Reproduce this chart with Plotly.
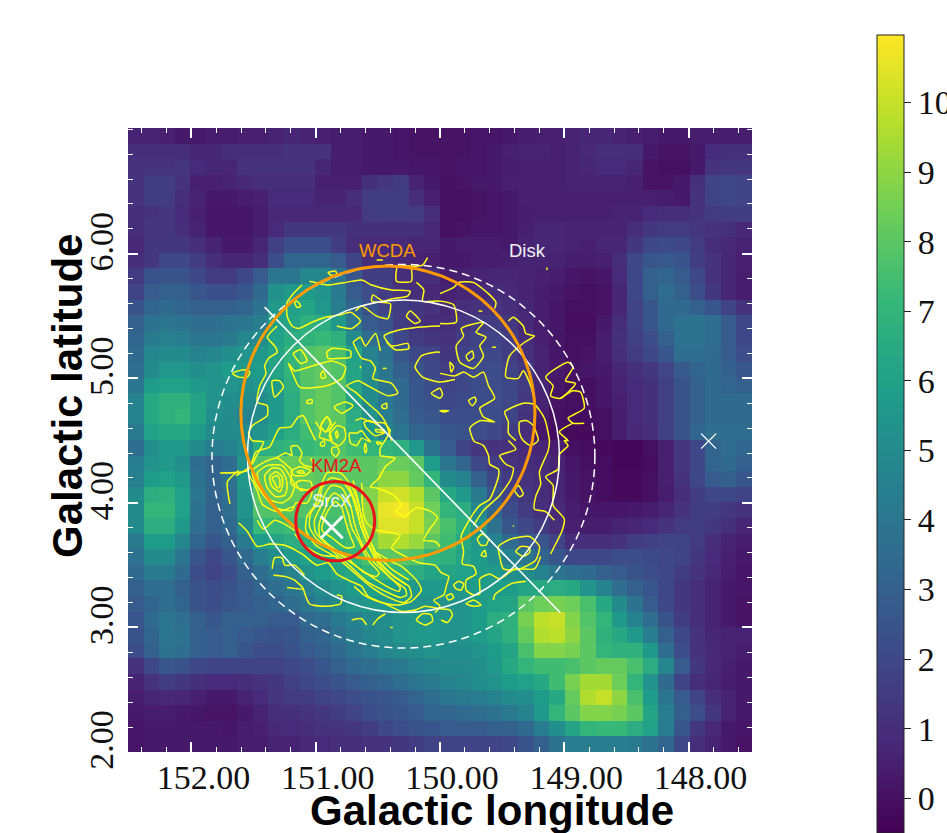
import plotly.graph_objects as go

# ---------- data: 40 x 40 map, top row first, left column = largest longitude ----------
Z = [
[.6,.6,.5,.3,.3,.4,.4,.5,.5,.6,.7,.6,.5,.4,.4,.3,.3,.2,.1,.1, .1,.1,.2,.2,.3,.4,.5,.5,.6,.7,.7,.6,.5,.4,.3,.3,.4,.4,.4,.4],
[1,1,1,1,.7,.7,1,1,1,1,1.2,1.2,1.2,.4,.4,.3,.3,.2,.1,.1, .1,.1,.2,.3,.5,.6,.6,.5,.6,.8,1,1,1,.3,.1,.1,.3,.9,1.1,1.1],
[1.2,1.2,1.2,1.3,.9,.7,.7,1.2,1.2,1.2,1.2,1.2,.7,.4,.4,.3,.3,.3,.2,.2, .1,.2,.2,.3,.4,.5,.5,.5,.6,.7,.9,.9,.7,.1,0,0,.3,1.2,1.4,1.4],
[1.2,1.6,1.6,1.2,.5,.5,.6,.8,1,1,1,1,.5,.5,.5,1.1,1.3,1.5,.6,.3, 0,.1,.3,.3,.5,.5,.5,.5,.6,.6,.6,.6,.5,.1,.1,.3,1.1,1.8,2,1.8],
[1.2,1.6,1.6,1,.6,.3,.3,.4,.5,.9,.9,.9,.6,.6,1,1.6,1.6,1.6,1,.5, 0,0,.1,.2,.3,.5,.5,.5,.5,.5,.5,.5,.5,.5,.4,.3,1.2,1.8,2,1.8],
[1,1.2,1.3,.9,.5,.2,.2,.2,.4,.8,.8,.8,.8,.8,.8,1.5,1.6,1.6,1.5,1, 0,0,.1,.2,.3,.4,.5,.5,.5,.5,.5,.6,.6,.9,1,1,1.2,1.5,1.6,1.6],
[1,1.3,1.3,1,.6,.2,.2,.2,.4,.9,1.4,1.4,1.4,1.4,1.1,1.1,1.1,1.1,1.1,.8, 0,.1,.2,.2,.3,.5,.7,.7,.6,.6,.6,.6,1,1.4,1.5,1.5,1.3,1.2,1.1,.8],
[.8,1.4,1.4,1.4,1,.6,.3,.3,.7,1.7,2.2,2.2,2.2,1.6,1,.9,.9,.9,.7,.7, .3,.4,.4,.4,.3,.6,.7,.7,.6,.5,.7,.7,1.4,2,2.1,2,1.5,1,.8,.6],
[1,1.4,2,2,1.6,1,.7,.7,1,2.2,3.2,3.2,3.2,2.8,1.8,1,1,.8,.6,.5, .3,.3,.4,.4,.5,.6,.6,.6,.4,.4,.5,1,2,2.6,2.7,2.5,1.6,1.2,.7,.5],
[1.5,2.4,2.4,2.4,2,1.5,1.5,2,2.8,4,4,4.8,4.8,4,2.6,1.6,1.6,1,1,1, .4,.5,.6,.7,.7,.6,.5,.4,.2,.1,.2,.9,2,3,3.2,2.8,2,1.2,.7,.4],
[1.8,2.8,3,3,2.6,2.3,2.3,2.6,3.4,5.3,5.6,5.8,5.4,4.2,2.8,2.2,1.6,1.2,1,.8, .6,.7,.8,1,.8,.6,.4,.3,.1,0,.1,.7,2,3,3.5,3,2.2,1.4,.7,.4],
[2.5,3.2,3.4,3.2,3,3,3,3.2,3.8,5.6,6,6.2,5.5,4.4,3.2,2.4,1.8,1.6,1.4,1.2, .8,1,1.2,1.2,1,.7,.4,.2,0,0,.1,.7,1.8,2.6,3.4,3.4,3,2.6,1.8,1.2],
[3,3.8,4,3.8,3.6,3.6,3.8,4,4.4,6,6.2,6.8,6.6,5.6,4,2.8,2.4,1.6,1.2,1, 1,1.3,1.6,1.6,1.4,.8,.4,.2,-.1,-.1,.3,1,1.8,2.6,3.4,3.8,3.8,3.6,2.8,2],
[3.2,4.2,4.5,4.4,4,4,4.2,4.8,5,6,6.6,6.9,7.2,6.8,5,3.6,3.2,2,1.5,1.3, 1.2,1.6,1.8,1.8,1.6,1,.5,.2,0,0,.4,1.1,1.7,2.2,3,3.8,3.8,3.6,2.8,2],
[3.4,4.8,5,5,4.6,4.8,5.2,5.4,5.6,6.2,7,7.8,8,7.6,6,4.6,3.8,2.6,2,1.8, 1.4,1.8,2,2,1.6,1.1,.6,.2,0,.1,.4,1,1.5,2,2.6,3.6,3.6,3.4,2.8,2.2],
[3.6,5,5.5,5.5,5.2,5.4,5.8,5.6,5.8,6.2,7,7.9,8.1,7.8,6.2,5,4,3,2.4,2, 1.6,2,2.2,2.2,1.8,1.3,.6,.3,.1,.2,.3,.7,1.1,1.4,1.9,2.7,3.2,3.4,3,2.6],
[4,5.8,6,6,5.6,5.4,5.4,5.3,5.5,5.8,6.8,7.8,8.2,7.8,6.2,5,4,3.4,2.6,2.2, 1.8,2,2.2,2.2,2,1.5,.7,.2,0,0,.2,.6,.9,1.1,1.7,2.5,3,3.4,3.2,3],
[4.6,6.4,6.8,6.8,6.2,5.4,5.2,5,5,5.6,6.6,7.8,8.2,7.8,6.2,5,4.2,3.4,2.6,2.4, 2,2.1,2.2,2.2,2,1.4,.6,.1,0,0,.2,.5,.9,1.1,1.7,2.5,3,3.4,3.4,3.4],
[4.6,6.4,6.8,7,6.2,5.2,5,4.6,5,5.6,6.6,7.8,8.2,8,6.6,5.4,4.4,3.6,2.8,2.6, 2.2,2.2,2.2,2.2,1.8,1.2,.4,0,-.1,-.1,0,.4,.9,1.1,1.7,2.5,3,3.4,3.4,3.4],
[4.2,6,6.4,6.4,5.8,5,5,5,5.4,6,6.6,7.4,7.8,7.8,6.8,5.6,4.6,4,3.2,3, 2.6,2.4,2.2,2,1.6,1,.2,-.1,-.2,-.2,0,.4,.8,1,1.7,2.5,3.2,3.6,3.6,3.5],
[3.6,5.2,5.6,5.6,5,4.4,4.6,5.2,6.6,6.8,7,7.2,7.4,7.8,7.4,7,7,6.8,5.5,3.8, 2.8,1.8,1.3,1.2,1.1,.9,.7,.4,0,-.1,-.2,-.3,-.3,0,.5,1.3,2,3.2,3.5,3.2],
[4.4,5.4,5.6,5.2,3.6,3.2,3.6,5.4,7.8,8,8.2,8.2,8,8,8,8,8.3,8.3,8,5.8, 4,3.2,2,1.6,1.2,1,.9,.6,.2,0,-.1,-.3,-.3,-.1,.5,1.3,2,3.2,3.4,3],
[4.5,5.8,6,5.6,3.8,3.2,3.8,5.6,8,8.4,8.3,8.2,8,8,8,8,9,9,8.2,7, 5,4.6,3,2,1.5,1.2,1,.7,.3,.1,-.1,-.2,-.2,0,.5,1.2,2,2.8,3,2.6],
[5,6.6,6.8,6,4,3.2,3.6,5.4,8,8.2,8.2,8,7.8,7.8,7.8,8.8,10,10.2,9.6,8, 6.4,5.6,4.2,2.6,1.8,1.4,1,.7,.3,.1,-.1,-.2,-.2,0,.4,1,1.6,2,2,1.8],
[5,7,7,6,3.8,3,3.6,5.4,7.8,7.8,7.8,7.8,7.6,7.6,7.8,9,10.6,10.8,10,8.4, 7,6.6,4.8,3.2,2.2,1.5,1.1,.8,.4,.2,.2,.2,.3,.4,.7,1.2,1.6,1.6,1.4,1.2],
[5,6.6,6.6,5.6,3.6,3,3.4,5,7.2,7.2,7.4,7.2,7.4,7.4,7.8,9,10.4,10.4,10,8.6, 7.6,6.8,5.4,3.8,2.6,2,1.5,1,.5,.4,.4,.6,.7,.9,1.2,1.5,1.6,1.4,1.1,.7],
[4.2,5.8,5.8,4.8,3.2,2.6,3,4.2,5.8,6.2,6.6,6.8,7,7.2,7.4,8.4,9.4,9.6,9.2,8, 7.4,6.4,5.6,4.6,3.4,2.8,2.6,1.8,1,1,1,1.2,1.6,1.7,1.8,1.8,1.5,1,.6,.4],
[3.8,5,5,4,2.6,2,2.6,3.4,4.4,5,5.6,6,6.2,6.6,7,7.6,8,8,7.8,7, 6.8,6.2,5.8,5.2,4.6,4,3.2,2.6,2,2,2,2.2,2.2,2.1,2,1.8,1.4,.9,.5,.3],
[3.4,4.2,4.2,3.4,2.2,1.8,2.2,3,3.6,4.2,4.6,5.4,5.8,6.2,6.4,7,7,7,6.6,6.2, 6.2,6,5.8,5.6,5.2,5,4.6,4,3.6,3.4,3,2.8,2.4,2.2,2,1.6,1.2,.8,.4,.2],
[3,3.6,3.6,3,2.4,2.2,2.4,2.8,3.2,3.6,4,4.6,5,5.4,5.8,6,6,5.8,5.6,5.6, 5.6,5.6,5.8,5.8,5.8,6.2,6.4,6.6,6.4,5.4,4.6,3.6,3,2.6,2,1.4,1,.6,.3,.2],
[2.8,3.2,3.6,3.2,2.4,2.2,2.6,2.8,3,3.2,3.6,4,4.6,5,5.4,5.6,5.6,5.6,5.4,5.4, 5.4,5.4,5.8,6,6.2,8,8.4,8.6,8.4,7.6,6.4,5,3.8,2.8,2,1.4,1,.6,.3,.1],
[2.6,3.4,4,3.6,3,2.6,3,3,3,2.8,2.8,3.4,3.6,4.2,4.6,5,5.2,5.4,5.6,5.6, 5.4,5.4,5.8,6.6,6.8,8.6,9.8,10,8.8,7.8,7,5.6,4.6,3.6,2.4,1.6,1,.6,.3,.1],
[2.4,3.2,4,3.8,3,2.8,3,2.8,2.6,2.4,2.6,3,3.2,3.8,4.4,4.8,5,5.4,5.6,5.6, 5.4,5.4,5.8,6.2,6.8,8.2,9.6,9.8,9,8,6.8,6.4,5.6,4.4,3,2,1.2,.7,.6,.6],
[2.2,3,3.8,3.6,3,2.8,3,2.6,2.2,2.2,2.4,2.8,3,3.4,4,4.4,4.8,5,5.2,5.4, 5.2,5.2,5.4,5.8,6.2,7.6,8.8,8.8,8.6,8,7,6.8,6.8,5.6,3.6,2.2,1.2,.8,.6,.4],
[1.2,2,2.6,2.4,2,1.8,1.8,1.8,1.8,1.8,2,2.2,2.6,3,3.4,3.6,4,4.2,4.6,4.8, 5,5,5.2,5.6,6.4,7,7.4,7.4,7.6,8,8.2,8.2,7.6,6.6,4.8,2.8,1.4,.8,.5,.3],
[.6,1.2,1.6,1.4,1.1,.9,.9,1,1.2,1.4,1.7,2,2.2,2.5,2.8,3,3.2,3.6,4,4.2, 4.6,4.8,5.2,5.4,5.8,6,6.4,7.4,8.6,9.4,9.4,8.4,7,5.4,3.4,1.8,1,.7,.4,.3],
[.4,.7,.8,.7,.5,.3,.3,.6,.9,1.3,1.5,1.6,1.8,2,2.2,2.4,2.6,2.8,3.2,3.6, 4,4.2,4.4,4.6,5,5.2,5.8,6.4,8.2,9.6,10,9,7.6,5.8,4,2.8,1.8,1,.6,.3],
[.3,.4,.4,.3,.2,.1,.1,.3,.6,1,1.1,1.2,1.4,1.6,1.8,2.2,2.4,2.6,2.8,3.2, 3.2,3.4,3.6,3.8,4.2,4.6,5.6,7,8,8.8,8.8,8.6,8,6.2,4.4,3,2.2,1.4,.6,.3],
[.2,.3,.3,.3,.3,.3,.2,.4,.5,.8,.9,1,1.2,1.2,1.4,1.6,2,2.2,2.4,2.6, 2.8,2.8,2.8,3,3,3.4,4.4,5.2,6.2,7,7.2,7.2,6.6,6,4.4,2.6,1.4,.8,.3,.2],
[.2,.3,.3,.3,.3,.3,.3,.4,.4,.6,.6,.8,.9,1,1,1.2,1.2,1.4,1.6,1.8, 1.8,1.8,1.8,1.8,2,2.4,3,3.8,4.4,4.4,4.4,4.4,4.2,3.8,3.2,2,1,.6,.3,.1],
]
assert all(len(r) == 40 for r in Z) and len(Z) == 40

X_TICKS = [152, 151, 150, 149, 148]
Y_TICKS = [2, 3, 4, 5, 6]
CBAR_TICKS = list(range(0, 11))
L_RANGE = [152.51, 147.49]
B_RANGE = [2.0, 7.01]

# contour traces (longitude, latitude), open lines
CONTOUR_OPEN_NORTH = [
 [(151.11,5.75),(151.18,5.68),(151.23,5.61),(151.23,5.50),(151.19,5.42),(151.14,5.40),(151.03,5.45),(150.92,5.49),(150.80,5.51),(150.72,5.53),(150.64,5.46),(150.71,5.40),(150.83,5.42)],
 [(151.31,5.42),(151.39,5.33),(151.33,5.26),(151.31,5.21),(151.38,5.16),(151.41,5.10),(151.40,5.04),(151.45,4.94),(151.47,4.81),(151.39,4.78),(151.39,4.70),(151.51,4.62),(151.54,4.56),(151.51,4.50),(151.42,4.49),(151.47,4.39),(151.55,4.26),(151.77,4.24)],
 [(151.62,4.26),(151.71,4.17),(151.69,3.99)],
 [(151.05,5.78),(150.90,5.75),(150.76,5.77),(150.63,5.79),(150.55,5.75),(150.39,5.71),(150.24,5.70),(150.26,5.66),(150.38,5.64),(150.46,5.62),(150.54,5.67),(150.55,5.62),(150.40,5.60),(150.42,5.48),(150.51,5.50),(150.63,5.58),(150.68,5.54)],
 [(150.10,5.97),(150.14,5.91),(150.20,5.90),(150.34,5.90),(150.35,5.78),(150.23,5.78),(150.23,5.88)],
 [(150.19,5.77),(150.13,5.71),(150.14,5.62),(150.00,5.62),(149.89,5.59),(149.87,5.45),(150.0,5.44)],
 [(150.0,5.68),(149.89,5.73),(149.85,5.77),(149.73,5.77),(149.60,5.67),(149.55,5.61),(149.56,5.56)],
 [(150.0,5.42),(150.18,5.41),(150.36,5.38),(150.45,5.34),(150.39,5.26),(150.26,5.28),(150.25,5.24),(150.36,5.23),(150.43,5.29)],
 [(150.70,5.29),(150.64,5.33),(150.60,5.26),(150.52,5.36),(150.48,5.22)],
 [(150.70,5.29),(150.63,5.16),(150.56,5.14),(150.52,5.08),(150.54,5.0),(150.39,4.96),(150.34,4.88),(150.42,4.86),(150.58,4.94),(150.66,4.98),(150.75,4.94),(150.68,4.89),(150.56,4.78),(150.50,4.73),(150.44,4.65),(150.39,4.50)],
 [(150.64,5.10),(150.64,5.08)], [(150.46,5.08),(150.43,5.08)],
 [(150.0,5.21),(150.04,5.21),(150.15,5.18),(150.20,5.09),(150.14,5.01),(150.0,4.97),(149.88,4.99)],
 [(150.07,4.88),(150.0,4.92),(149.98,4.87),(150.0,4.84),(150.07,4.88)],
 [(150.0,4.74),(149.93,4.74),(149.97,4.73),(150.0,4.74)],
 [(149.69,5.54),(149.66,5.54)], [(149.58,5.25),(149.55,5.25)], [(149.14,5.89),(149.14,5.87)], [(150.51,5.95),(150.46,5.95)],
 [(149.45,5.46),(149.41,5.49),(149.33,5.42),(149.31,5.36),(149.24,5.34),(149.32,5.29),(149.44,5.18),(149.47,5.01),(149.37,5.0),(149.33,5.06),(149.27,4.94),(149.24,4.82)],
 [(150.0,5.04),(149.88,5.02),(149.81,5.05),(149.73,5.01),(149.65,5.05),(149.61,4.94),(149.56,4.84),(149.68,4.76),(149.65,4.69),(149.56,4.65),(149.68,4.66),(149.76,4.60),(149.73,4.50),(149.72,4.49)],
 [(149.03,4.84),(148.93,4.90),(148.87,4.89),(148.84,4.76),(148.97,4.68),(148.93,4.64),(148.84,4.64)],
 [(148.93,4.64),(149.04,4.57),(148.97,4.50),(149.0,4.50),(148.97,4.46),(149.04,4.39),(149.05,4.27),(149.15,4.21),(149.09,4.14),(149.09,3.98),(149.0,3.87),(149.02,3.77),(149.07,3.67),(149.11,3.59)],
 [(149.39,4.50),(149.45,4.56),(149.45,4.65),(149.48,4.73),(149.33,4.80),(149.24,4.79),(149.16,4.68),(149.12,4.50),(149.13,4.42),(149.20,4.25),(149.19,4.15),(149.23,4.05),(149.24,3.95),(149.15,3.93),(149.08,3.86)],
 [(149.45,4.50),(149.39,4.43),(149.52,4.38),(149.47,4.31),(149.41,4.28),(149.43,4.19),(149.52,4.06),(149.65,3.94),(149.73,3.82)],
]
CONTOUR_RINGS_NORTH = [
 [(151.67,5.04),(151.58,5.07),(151.53,5.05),(151.55,5.01),(151.62,5.01)],
 [(150.90,5.85),(150.84,5.86),(150.83,5.83),(150.88,5.83)],
 [(151.15,5.62),(151.12,5.58),(151.15,5.57),(151.17,5.61)],
 [(150.24,5.54),(150.16,5.46),(150.20,5.44),(150.27,5.50)],
 [(150.91,5.21),(150.87,5.24),(150.72,5.22),(150.72,5.17),(150.82,5.16),(150.90,5.16)],
 [(151.18,5.20),(151.12,5.23),(151.07,5.14),(151.12,5.12)],
 [(151.22,5.12),(151.17,5.06),(151.09,5.08),(150.87,5.14),(150.76,5.09),(150.79,5.0),(150.91,4.94),(151.13,4.93),(151.19,5.05)],
 [(150.96,5.03),(150.94,5.06),(150.92,5.01),(150.95,5.0)],
 [(151.35,4.98),(151.29,4.98),(151.26,4.93),(151.33,4.85)],
 [(151.07,4.82),(151.03,4.83),(151.03,4.80),(151.07,4.80)],
 [(150.85,4.77),(150.76,4.81),(150.70,4.78),(150.79,4.72)],
 [(150.96,4.62),(150.91,4.69),(150.88,4.65),(150.92,4.57)],
 [(150.47,4.78),(150.43,4.80),(150.43,4.76),(150.46,4.76)],
 [(149.81,5.34),(149.83,5.40),(149.65,5.45),(149.71,5.37),(149.63,5.33),(149.68,5.26),(149.65,5.18),(149.73,5.08),(149.84,5.13),(149.87,5.26)],
 [(149.79,5.18),(149.74,5.22),(149.73,5.17),(149.77,5.14)],
 [(149.92,5.13),(149.89,5.09),(149.91,5.05)],
 [(149.77,4.82),(149.72,4.85),(149.71,4.82),(149.74,4.78)],
 [(149.15,5.01),(148.97,5.13),(148.93,5.09),(148.99,4.98),(148.91,4.96),(149.03,4.84),(149.11,4.86),(149.09,4.94)],
 [(149.36,4.65),(149.30,4.66),(149.25,4.62),(149.21,4.50),(149.27,4.46),(149.33,4.50),(149.36,4.56)],
 [(149.37,4.14),(149.40,4.10),(149.36,4.05),(149.33,4.07)],
]
CONTOUR_OPEN_CORE = [
 [(150.68,4.66),(150.63,4.68),(150.56,4.65),(150.45,4.64),(150.40,4.58),(150.43,4.52),(150.48,4.44),(150.48,4.38),(150.36,4.36),(150.44,4.29),(150.49,4.20),(150.56,4.13),(150.51,4.12),(150.37,4.06),(150.31,3.98),(150.35,3.94),(150.29,3.89),(150.19,3.96),(150.07,3.93),(150.02,3.88),(150.09,3.78),(150.13,3.70),(150.04,3.69),(150.0,3.65)],
 [(150.63,4.16),(150.62,3.94),(150.59,3.84),(150.51,3.78),(150.44,3.77),(150.32,3.74),(150.39,3.64),(150.28,3.57),(150.17,3.52),(150.04,3.50),(149.99,3.44),(149.93,3.41),(149.95,3.33),(149.97,3.26),(150.05,3.22),(150.0,3.17),(150.04,3.12)],
 [(150.53,3.61),(150.41,3.54),(150.31,3.49),(150.19,3.38),(150.15,3.30),(150.23,3.21),(150.33,3.18),(150.43,3.19),(150.53,3.22),(150.61,3.26),(150.69,3.33)],
 [(150.745,4.16),(150.67,3.98),(150.64,3.82),(150.58,3.68),(150.52,3.56),(150.41,3.44),(150.27,3.34)],
 [(150.70,4.18),(150.655,4.00),(150.625,3.84),(150.565,3.70),(150.50,3.58),(150.39,3.47),(150.25,3.38)],
 [(151.64,4.22),(151.53,4.29),(151.48,4.41),(151.37,4.45),(151.33,4.53),(151.29,4.60),(151.20,4.61),(151.14,4.69),(151.10,4.70),(151.05,4.60),(151.0,4.50)],
 [(151.32,4.36),(151.24,4.40),(151.19,4.38),(151.20,4.45),(151.15,4.46),(151.11,4.40),(151.13,4.34),(151.09,4.30),(151.01,4.29),(151.04,4.36)],
 [(151.0,4.65),(150.96,4.58),(150.97,4.53),(150.87,4.50),(150.89,4.58),(150.84,4.65)],
 [(151.47,3.86),(151.42,3.79),(151.33,3.86),(151.25,3.83),(151.17,3.78)],
 [(151.54,4.23),(151.47,4.10),(151.43,3.99),(151.31,3.93),(151.18,3.97)],
 [(151.17,3.75),(151.08,3.65),(150.95,3.58),(150.82,3.57)],
]
CONTOUR_RINGS_CORE = [
 [(150.91,4.24),(150.80,4.24),(150.71,4.13),(150.65,3.97),(150.61,3.81),(150.55,3.66),(150.49,3.53),(150.37,3.41),(150.25,3.33),(150.23,3.25),(150.29,3.20),(150.43,3.25),(150.56,3.33),(150.69,3.44),(150.83,3.56),(151.00,3.66),(151.08,3.78),(151.07,3.89),(151.00,3.995),(150.97,4.10)],
 [(150.88,4.20),(150.79,4.18),(150.71,4.06),(150.67,3.93),(150.63,3.80),(150.57,3.65),(150.51,3.53),(150.40,3.40),(150.28,3.31),(150.27,3.26),(150.32,3.24),(150.44,3.29),(150.59,3.37),(150.72,3.49),(150.85,3.60),(151.00,3.72),(151.05,3.81),(151.04,3.92),(150.97,4.01),(150.95,4.12)],
 [(150.87,4.14),(150.79,4.12),(150.72,3.98),(150.69,3.84),(150.64,3.70),(150.59,3.60),(150.53,3.52),(150.40,3.40),(150.32,3.32),(150.33,3.29),(150.43,3.33),(150.57,3.42),(150.73,3.53),(150.88,3.64),(151.00,3.76),(151.01,3.86),(150.96,3.97),(150.92,4.08)],
 [(150.85,4.08),(150.79,4.04),(150.74,3.92),(150.71,3.80),(150.65,3.69),(150.60,3.58),(150.56,3.52),(150.49,3.44),(150.51,3.41),(150.61,3.44),(150.75,3.56),(150.89,3.66),(150.97,3.74),(150.97,3.84),(150.93,3.94),(150.89,4.04)],
 [(150.84,4.01),(150.79,3.96),(150.76,3.85),(150.72,3.73),(150.69,3.65),(150.76,3.64),(150.87,3.72),(150.95,3.78),(150.92,3.90),(150.88,3.97)],
 [(151.47,4.24),(151.39,4.30),(151.27,4.30),(151.21,4.22),(151.17,4.14),(151.20,4.05),(151.27,4.00),(151.36,4.02),(151.43,4.10)],
 [(151.41,4.22),(151.35,4.28),(151.28,4.27),(151.24,4.20),(151.23,4.12),(151.25,4.06),(151.32,4.05),(151.39,4.12)],
 [(151.37,4.21),(151.32,4.25),(151.27,4.21),(151.27,4.13),(151.29,4.09),(151.35,4.13)],
 [(151.35,4.20),(151.31,4.22),(151.29,4.19),(151.29,4.13),(151.31,4.12),(151.33,4.16)],
 [(151.51,4.26),(151.41,4.33),(151.31,4.36),(151.23,4.30),(151.19,4.26),(151.20,4.16),(151.15,4.12),(151.03,4.09),(151.07,4.0),(151.16,4.0),(151.19,3.94),(151.32,3.96),(151.41,4.05),(151.49,4.17)],
 [(151.20,4.25),(151.13,4.29),(151.04,4.26),(151.09,4.22),(151.17,4.22)],
 [(151.15,4.25),(151.11,4.26),(151.09,4.24),(151.13,4.24)],
 [(151.16,4.16),(151.12,4.18),(151.04,4.17),(151.03,4.12),(151.12,4.10)],
 [(150.61,4.65),(150.56,4.66),(150.44,4.57),(150.52,4.54),(150.60,4.61)],
 [(150.52,4.59),(150.45,4.58),(150.45,4.57),(150.51,4.57)],
 [(150.73,4.56),(150.67,4.56),(150.63,4.58),(150.60,4.54),(150.56,4.49),(150.63,4.52),(150.67,4.46),(150.72,4.48),(150.73,4.53)],
 [(150.61,4.44),(150.60,4.48),(150.59,4.42),(150.60,4.40)],
 [(150.51,4.49),(150.47,4.48),(150.50,4.47)],
 [(150.87,4.44),(150.83,4.45),(150.81,4.41),(150.84,4.37),(150.87,4.40)],
 [(150.84,4.56),(150.83,4.58),(150.82,4.54),(150.83,4.52)],
 [(150.89,4.54),(150.83,4.62),(150.77,4.60),(150.76,4.52),(150.81,4.46),(150.87,4.49)],
 [(150.96,4.61),(150.91,4.69),(150.87,4.61),(150.92,4.57)],
 [(150.96,4.48),(150.93,4.50),(150.93,4.46),(150.96,4.46)],
]
CONTOUR_OPEN_SOUTH = [
 [(151.62,3.84),(151.55,3.77),(151.47,3.65),(151.37,3.67),(151.25,3.66),(151.11,3.59),(150.99,3.50),(150.90,3.52),(150.83,3.43),(150.74,3.38),(150.63,3.33),(150.58,3.25),(150.44,3.19),(150.31,3.13),(150.20,3.14),(150.12,3.17),(150.00,3.15),(149.92,3.14),(149.90,3.10),(149.94,3.04),(149.99,3.06)],
 [(151.35,3.47),(151.33,3.56),(151.27,3.56),(151.25,3.50),(151.17,3.50),(151.09,3.42)],
 [(151.34,3.42),(151.25,3.41),(151.17,3.38),(151.10,3.31),(151.23,3.32)],
 [(151.10,3.31),(151.05,3.19),(150.94,3.17),(150.80,3.19),(150.79,3.25),(150.83,3.26)],
 [(150.71,3.06),(150.63,3.07),(150.59,3.02)], [(150.54,3.02),(150.50,3.07),(150.44,3.11)], [(150.40,3.0),(150.38,3.0)],
 [(149.72,4.49),(149.65,4.46),(149.61,4.38),(149.60,4.31),(149.53,4.27),(149.53,4.21),(149.60,4.03),(149.68,3.98),(149.76,3.87),(149.83,3.73),(149.81,3.61),(149.82,3.51),(149.73,3.49),(149.71,3.43),(149.79,3.38),(149.79,3.30),(149.73,3.26),(149.68,3.27),(149.68,3.39),(149.60,3.43),(149.52,3.39),(149.40,3.47),(149.24,3.47),(149.19,3.57)],
 [(149.57,3.22),(149.56,3.26),(149.43,3.35),(149.31,3.37)], [(149.41,3.82),(149.41,3.81)],
]
CONTOUR_RINGS_SOUTH = [
 [(150.19,3.06),(150.14,3.11),(150.07,3.10),(150.06,3.05),(150.12,3.02)],
 [(149.53,3.65),(149.43,3.71),(149.28,3.73),(149.20,3.65),(149.23,3.54),(149.36,3.47),(149.49,3.47),(149.52,3.57)],
 [(149.39,3.61),(149.35,3.65),(149.28,3.64),(149.28,3.60),(149.33,3.57)],
 [(149.70,3.71),(149.66,3.75),(149.61,3.71),(149.63,3.66),(149.67,3.66)],
 [(149.67,3.58),(149.64,3.62),(149.63,3.57)],
 [(149.89,3.34),(149.85,3.37),(149.81,3.35),(149.83,3.30),(149.87,3.31)],
 [(149.95,3.25),(149.91,3.27),(149.89,3.24),(149.93,3.22)],
 [(149.79,3.19),(149.73,3.22),(149.67,3.18),(149.73,3.17)],
]

# fitted regions: centre longitude, centre latitude, radius in degrees
REGION_DISK_INNER = (150.294, 4.375, 1.255)
REGION_DISK_OUTER = (150.294, 4.375, 1.54)
REGION_WCDA = (150.419, 4.72, 1.183)
REGION_KM2A = (150.843, 3.853, 0.318)
CUT_LINE_L = [151.411, 149.032]
CUT_LINE_B = [5.572, 3.118]
SRCX_L, SRCX_B = [150.871], [3.805]
SOURCE2_L, SOURCE2_B = [147.839], [4.496]

W, H = 947, 833
FONT_SERIF = "Liberation Serif"
FONT_SANS = "Liberation Sans"

dl = (L_RANGE[0] - L_RANGE[1]) / 40
db = (B_RANGE[1] - B_RANGE[0]) / 40
fig = go.Figure()
fig.add_trace(go.Heatmap(
    z=Z, x0=L_RANGE[0] - dl / 2, dx=-dl, y0=B_RANGE[1] - db / 2, dy=-db,
    colorscale="Viridis", zmin=-0.5, zmax=10.97, hoverinfo="skip",
    colorbar=dict(
        x=877 / W, xanchor="left", y=1 - 35 / H, yanchor="top",
        thickness=27, thicknessmode="pixels", len=798, lenmode="pixels",
        tickvals=CBAR_TICKS, ticks="outside", ticklen=7, tickwidth=1, tickcolor="#222",
        outlinecolor="#222", outlinewidth=1, xpad=0, ypad=0,
        tickfont=dict(family=FONT_SERIF, size=34, color="#111"),
    ),
))

def flatten(opened, rings):
    xs, ys = [], []
    for path in opened:
        xs += [p[0] for p in path] + [None]
        ys += [p[1] for p in path] + [None]
    for path in rings:
        xs += [p[0] for p in path] + [path[0][0], None]
        ys += [p[1] for p in path] + [path[0][1], None]
    return xs, ys

cx, cy = flatten(CONTOUR_OPEN_NORTH + CONTOUR_OPEN_CORE + CONTOUR_OPEN_SOUTH,
                 CONTOUR_RINGS_NORTH + CONTOUR_RINGS_CORE + CONTOUR_RINGS_SOUTH)
fig.add_trace(go.Scatter(x=cx, y=cy, mode="lines", connectgaps=False,
                         line=dict(color="#ffff14", width=1.5, shape="spline", smoothing=0.6),
                         hoverinfo="skip", showlegend=False))
fig.add_trace(go.Scatter(x=CUT_LINE_L, y=CUT_LINE_B, mode="lines",
                         line=dict(color="white", width=1.6), hoverinfo="skip", showlegend=False))
fig.add_trace(go.Scatter(x=SRCX_L, y=SRCX_B, mode="markers", hoverinfo="skip", showlegend=False,
                         marker=dict(symbol="x-thin", size=22, line=dict(color="white", width=2.8))))
fig.add_trace(go.Scatter(x=SOURCE2_L, y=SOURCE2_B, mode="markers", hoverinfo="skip", showlegend=False,
                         marker=dict(symbol="x-thin", size=15, line=dict(color="white", width=1.4))))

def circle(region, color, width, dash="solid"):
    l, b, r = region
    return dict(type="circle", xref="x", yref="y", x0=l - r, x1=l + r, y0=b - r, y1=b + r,
                line=dict(color=color, width=width, dash=dash), layer="above")

shapes = [
    circle(REGION_DISK_INNER, "white", 1.5),
    circle(REGION_DISK_OUTER, "white", 1.5, "8px,5px"),
    circle(REGION_WCDA, "#ff9a00", 3),
    circle(REGION_KM2A, "#e8121a", 3),
]

def label(text, l, b, color):
    return dict(text=text, x=l, y=b, xref="x", yref="y", showarrow=False, xanchor="center", yanchor="middle",
                font=dict(family=FONT_SANS, size=18.5, color=color))

annotations = [
    label("WCDA", 150.42, 6.03, "#ff9a00"),
    label("Disk", 149.30, 6.03, "#f2f2f2"),
    label("KM2A", 150.83, 4.30, "#e8121a"),
    label("SrcX", 150.87, 4.02, "#f2f2f2"),
    dict(text="<b>Galactic longitude</b>", xref="paper", yref="paper", x=492 / W, y=1 - 810 / H,
         showarrow=False, xanchor="center", yanchor="middle", font=dict(family=FONT_SANS, size=42, color="black")),
    dict(text="<b>Galactic latitude</b>", xref="paper", yref="paper", x=67 / W, y=1 - 396 / H, textangle=-90,
         showarrow=False, xanchor="center", yanchor="middle", font=dict(family=FONT_SANS, size=42, color="black")),
]

axis_common = dict(
    tickformat=".2f", tickmode="array", ticks="inside", ticklen=10, tickwidth=1.6, tickcolor="white",
    showline=True, linecolor="rgba(255,255,255,0.55)", linewidth=1, mirror="allticks",
    showgrid=False, zeroline=False,
    tickfont=dict(family=FONT_SERIF, size=34, color="#111"),
    minor=dict(ticks="inside", ticklen=5, tickwidth=1, tickcolor="white", dtick=0.2, tick0=2, showgrid=False),
)
fig.update_layout(
    width=W, height=H, margin=dict(l=0, r=0, t=0, b=0, autoexpand=False),
    paper_bgcolor="white", plot_bgcolor="white", showlegend=False,
    xaxis=dict(axis_common, domain=[128 / W, 752 / W], range=L_RANGE, tickvals=X_TICKS, ticklabelshift=-12, ticklabelstandoff=-5),
    yaxis=dict(axis_common, domain=[1 - 752 / H, 1 - 128 / H], range=B_RANGE, tickvals=Y_TICKS, tickangle=-90, ticklabelshift=-7, ticklabelstandoff=0),
    shapes=shapes, annotations=annotations,
)
fig.write_html("out.html", config={"displayModeBar": False},
               post_script="document.body.style.margin='0';document.documentElement.style.overflow='hidden';")
